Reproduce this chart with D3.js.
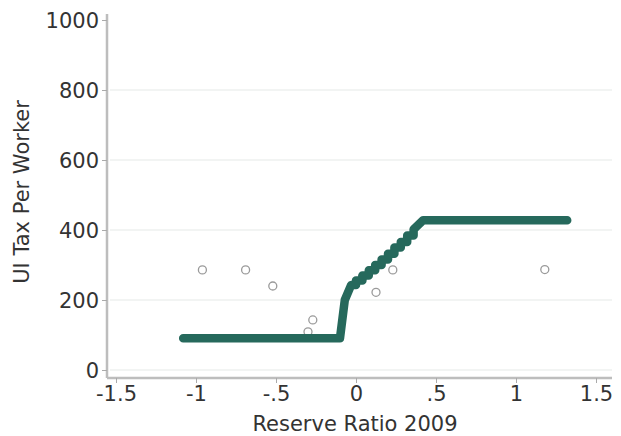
<!DOCTYPE html>
<html lang="en">
<head>
  <meta charset="utf-8" />
  <title>UI Tax Per Worker</title>
  <script src="https://d3js.org/d3.v7.min.js"></script>
  <style>
    body { margin: 0; background: #fff; }
    text { font-family: "DejaVu Sans", sans-serif; fill: #333; }
  </style>
</head>
<body>
  <div id="chart"></div>
  <script>
    // tax schedule (thick green line)
    var scheduleRR  = [-1.08, -0.10, -0.07, -0.03, 0.00, 0.00, 0.04, 0.04, 0.08, 0.08, 0.12, 0.12, 0.16, 0.16, 0.20, 0.20, 0.24, 0.24, 0.28, 0.28, 0.32, 0.32, 0.36, 0.36, 0.42, 1.32];
    var scheduleTax = [91, 91, 200, 243, 243, 256, 256, 270, 270, 285, 285, 300, 300, 316, 316, 332, 332, 350, 350, 366, 366, 384, 384, 402, 428, 428];

    // observed states (hollow gray circles)
    var obsRR  = [-0.96, -0.69, -0.52, -0.27, -0.30, 0.04, 0.125, 0.23, 1.18];
    var obsTax = [286, 286, 240, 143, 109, 265, 222, 286, 287];

    var xTicks = [-1.5, -1, -0.5, 0, 0.5, 1, 1.5];
    var xTickLabels = ["-1.5", "-1", "-.5", "0", ".5", "1", "1.5"];
    var yTicks = [0, 200, 400, 600, 800, 1000];

    var width = 621, height = 436;

    var svg = d3.select("#chart")
                .append("svg")
                .attr("width", width)
                .attr("height", height);

    var x = d3.scaleLinear().domain([-1.5, 1.5]).range([116, 596]);
    var y = d3.scaleLinear().domain([0, 1000]).range([370, 20]);

    // grid lines
    svg.selectAll(".grid")
       .data(yTicks.slice(0, 5))
       .enter()
       .append("line")
       .attr("x1", 110).attr("x2", 612)
       .attr("y1", function(d) { return y(d); })
       .attr("y2", function(d) { return y(d); })
       .attr("stroke", "#eef0ef")
       .attr("stroke-width", 1.5);

    // x axis
    var xAxis = d3.axisBottom(x)
                  .tickValues(xTicks)
                  .tickFormat(function(d, i) { return xTickLabels[i]; })
                  .tickSize(5)
                  .tickPadding(3);
    var gx = svg.append("g")
                .attr("transform", "translate(0,378)")
                .call(xAxis);
    gx.select(".domain").attr("d", "M107,0H612").attr("stroke", "#bdbdbd").attr("stroke-width", 2.5);
    gx.selectAll(".tick line").attr("stroke", "#aaa");
    gx.selectAll(".tick text").style("font-size", "21px");

    // y axis
    var yAxis = d3.axisLeft(y)
                  .tickValues(yTicks)
                  .tickFormat(d3.format("d"))
                  .tickSize(5)
                  .tickPadding(3);
    var gy = svg.append("g")
                .attr("transform", "translate(107,0)")
                .call(yAxis);
    gy.select(".domain").attr("d", "M0,14V378").attr("stroke", "#bdbdbd").attr("stroke-width", 2.5);
    gy.selectAll(".tick line").attr("stroke", "#aaa");
    gy.selectAll(".tick text").style("font-size", "21px").attr("dy", "0.35em");

    // axis titles
    svg.append("text")
       .attr("x", 355).attr("y", 431)
       .attr("text-anchor", "middle")
       .style("font-size", "21px")
       .text("Reserve Ratio 2009");

    svg.append("text")
       .attr("transform", "translate(29,192) rotate(-90)")
       .attr("text-anchor", "middle")
       .style("font-size", "21px")
       .text("UI Tax Per Worker");

    // observed points
    svg.selectAll(".obs")
       .data(obsRR)
       .enter()
       .append("circle")
       .attr("cx", function(d) { return x(d); })
       .attr("cy", function(d, i) { return y(obsTax[i]); })
       .attr("r", 4)
       .attr("fill", "none")
       .attr("stroke", "#9a9a9a")
       .attr("stroke-width", 1.3);

    // schedule
    var line = d3.line()
                 .x(function(d) { return x(d); })
                 .y(function(d, i) { return y(scheduleTax[i]); });
    svg.append("path")
       .attr("d", line(scheduleRR))
       .attr("fill", "none")
       .attr("stroke", "#26695c")
       .attr("stroke-width", 8.5)
       .attr("stroke-linejoin", "round")
       .attr("stroke-linecap", "round");
  </script>
</body>
</html>
